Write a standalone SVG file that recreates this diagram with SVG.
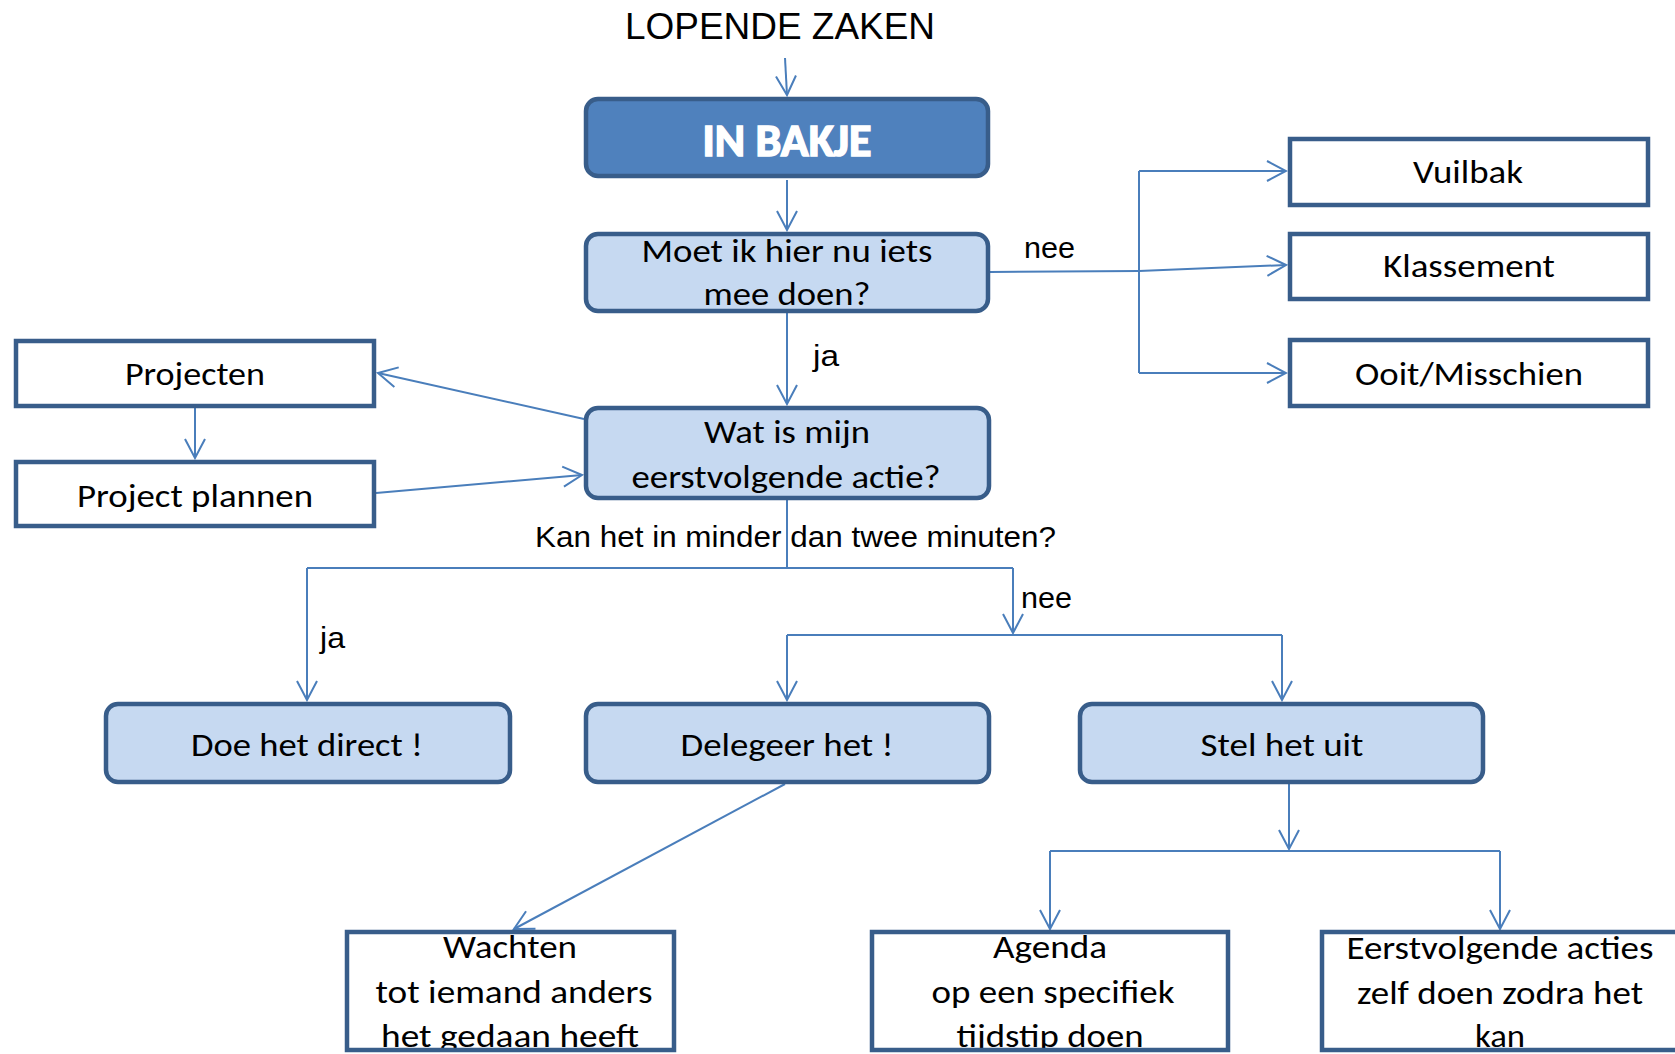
<svg xmlns="http://www.w3.org/2000/svg" width="1675" height="1054" viewBox="0 0 1675 1054">
<style>
.rb{fill:#C6D9F1;stroke:#385D8A;stroke-width:4.5}
.sq{fill:#FFFFFF;stroke:#385D8A;stroke-width:4.5}
.so{fill:none;stroke:#385D8A;stroke-width:4.5}
.t{font-family:Carlito,Lato,"Open Sans",sans-serif;font-size:32px;fill:#000;text-anchor:middle}
.l{font-family:"Liberation Sans",Arial,sans-serif;fill:#000}
.c{fill:none;stroke:#4A7EBB;stroke-width:2}
.ca{fill:none;stroke:#4A7EBB;stroke-width:2;marker-end:url(#ah)}
</style>
<defs>
<marker id="ah" markerUnits="userSpaceOnUse" viewBox="-22 -12 24 24" refX="0" refY="0" markerWidth="24" markerHeight="24" orient="auto">
<path d="M-19,-10 L0,0 L-19,10" fill="none" stroke="#4A7EBB" stroke-width="2"/>
</marker>
</defs>
<rect width="1675" height="1054" fill="#FFFFFF"/>

<g id="connectors">
<path class="ca" d="M785,58 L787,95"/>
<path class="ca" d="M787,180 L787,230"/>
<path class="ca" d="M787,313 L787,404"/>
<path class="c" d="M990,272 L1139,271"/>
<path class="ca" d="M1139,271 L1286,265"/>
<path class="c" d="M1139,171 L1139,373"/>
<path class="ca" d="M1139,171 L1286,171"/>
<path class="ca" d="M1139,373 L1286,373"/>
<path class="ca" d="M584,419 L378,373"/>
<path class="ca" d="M195,408 L195,458"/>
<path class="ca" d="M376,493 L582,475"/>
<path class="c" d="M787,500 L787,568"/>
<path class="c" d="M307,568 L1013,568"/>
<path class="ca" d="M307,568 L307,700"/>
<path class="ca" d="M1013,568 L1013,633"/>
<path class="c" d="M787,635 L1282,635"/>
<path class="ca" d="M787,635 L787,700"/>
<path class="ca" d="M1282,635 L1282,700"/>
<path class="ca" d="M785,784 L514,929"/>
<path class="ca" d="M1289,784 L1289,849"/>
<path class="c" d="M1050,851 L1500,851"/>
<path class="ca" d="M1050,851 L1050,929"/>
<path class="ca" d="M1500,851 L1500,929"/>
</g>

<g id="labels">
<text class="l" x="625" y="39" font-size="36" textLength="310" lengthAdjust="spacingAndGlyphs">LOPENDE ZAKEN</text>
<text class="l" x="1024" y="258" font-size="30" textLength="51" lengthAdjust="spacingAndGlyphs">nee</text>
<text class="l" x="813" y="366" font-size="30" textLength="26" lengthAdjust="spacingAndGlyphs">ja</text>
<text class="l" x="535" y="547" font-size="30" textLength="521" lengthAdjust="spacingAndGlyphs">Kan het in minder dan twee minuten?</text>
<text class="l" x="1021" y="608" font-size="30" textLength="51" lengthAdjust="spacingAndGlyphs">nee</text>
<text class="l" x="320" y="648" font-size="30" textLength="25" lengthAdjust="spacingAndGlyphs">ja</text>
</g>

<g id="in-bakje">
<rect x="586" y="99" width="402" height="77" rx="12" fill="#4F81BD" stroke="#385D8A" stroke-width="4.5"/>
<text x="787" y="156" font-family="Carlito,Lato,sans-serif" font-weight="bold" font-size="46" fill="#FFFFFF" stroke="#FFFFFF" stroke-width="1.5" text-anchor="middle" textLength="169" lengthAdjust="spacingAndGlyphs">IN BAKJE</text>
</g>

<g id="moet">
<rect class="rb" x="586" y="234" width="402" height="77" rx="12"/>
<text class="t" x="787" y="262" textLength="291" lengthAdjust="spacingAndGlyphs">Moet ik hier nu iets</text>
<text class="t" x="787" y="305" textLength="167" lengthAdjust="spacingAndGlyphs">mee doen?</text>
</g>

<g id="wat">
<rect class="rb" x="586" y="408" width="403" height="90" rx="12"/>
<text class="t" x="787" y="443" textLength="166" lengthAdjust="spacingAndGlyphs">Wat is mijn</text>
<text class="t" x="786" y="488" textLength="309" lengthAdjust="spacingAndGlyphs">eerstvolgende actie?</text>
</g>

<g id="vuilbak">
<rect class="sq" x="1290" y="139" width="358" height="66"/>
<text class="t" x="1468" y="183" textLength="110" lengthAdjust="spacingAndGlyphs">Vuilbak</text>
</g>

<g id="klassement">
<rect class="sq" x="1290" y="234" width="358" height="65"/>
<text class="t" x="1469" y="277" textLength="172" lengthAdjust="spacingAndGlyphs">Klassement</text>
</g>

<g id="ooit">
<rect class="sq" x="1290" y="340" width="358" height="66"/>
<text class="t" x="1469" y="385" textLength="228" lengthAdjust="spacingAndGlyphs">Ooit/Misschien</text>
</g>

<g id="projecten">
<rect class="sq" x="16" y="341" width="358" height="65"/>
<text class="t" x="195" y="385" textLength="140" lengthAdjust="spacingAndGlyphs">Projecten</text>
</g>

<g id="project-plannen">
<rect class="sq" x="16" y="462" width="358" height="64"/>
<text class="t" x="195" y="507" textLength="236" lengthAdjust="spacingAndGlyphs">Project plannen</text>
</g>

<g id="doe">
<rect class="rb" x="106" y="704" width="404" height="78" rx="12"/>
<text class="t" x="307" y="756" textLength="232" lengthAdjust="spacingAndGlyphs">Doe het direct !</text>
</g>

<g id="delegeer">
<rect class="rb" x="586" y="704" width="403" height="78" rx="12"/>
<text class="t" x="787" y="756" textLength="213" lengthAdjust="spacingAndGlyphs">Delegeer het !</text>
</g>

<g id="stel">
<rect class="rb" x="1080" y="704" width="403" height="78" rx="12"/>
<text class="t" x="1282" y="756" textLength="163" lengthAdjust="spacingAndGlyphs">Stel het uit</text>
</g>

<g id="wachten">
<rect x="347" y="932" width="327" height="118" fill="#FFFFFF"/>
<text class="t" x="510" y="958" textLength="134" lengthAdjust="spacingAndGlyphs">Wachten</text>
<text class="t" x="514" y="1003" textLength="277" lengthAdjust="spacingAndGlyphs">tot iemand anders</text>
<text class="t" x="510" y="1047" textLength="258" lengthAdjust="spacingAndGlyphs">het gedaan heeft</text>
<rect class="so" x="347" y="932" width="327" height="118"/>
</g>

<g id="agenda">
<rect x="872" y="932" width="356" height="118" fill="#FFFFFF"/>
<text class="t" x="1050" y="958" textLength="114" lengthAdjust="spacingAndGlyphs">Agenda</text>
<text class="t" x="1053" y="1003" textLength="243" lengthAdjust="spacingAndGlyphs">op een specifiek</text>
<text class="t" x="1050" y="1047" textLength="187" lengthAdjust="spacingAndGlyphs">tijdstip doen</text>
<rect class="so" x="872" y="932" width="356" height="118"/>
</g>

<g id="eerstvolgende">
<rect x="1322" y="932" width="360" height="118" fill="#FFFFFF"/>
<text class="t" x="1500" y="959" textLength="307" lengthAdjust="spacingAndGlyphs">Eerstvolgende acties</text>
<text class="t" x="1500" y="1004" textLength="286" lengthAdjust="spacingAndGlyphs">zelf doen zodra het</text>
<text class="t" x="1500" y="1047" textLength="50" lengthAdjust="spacingAndGlyphs">kan</text>
<rect class="so" x="1322" y="932" width="360" height="118"/>
</g>
</svg>
